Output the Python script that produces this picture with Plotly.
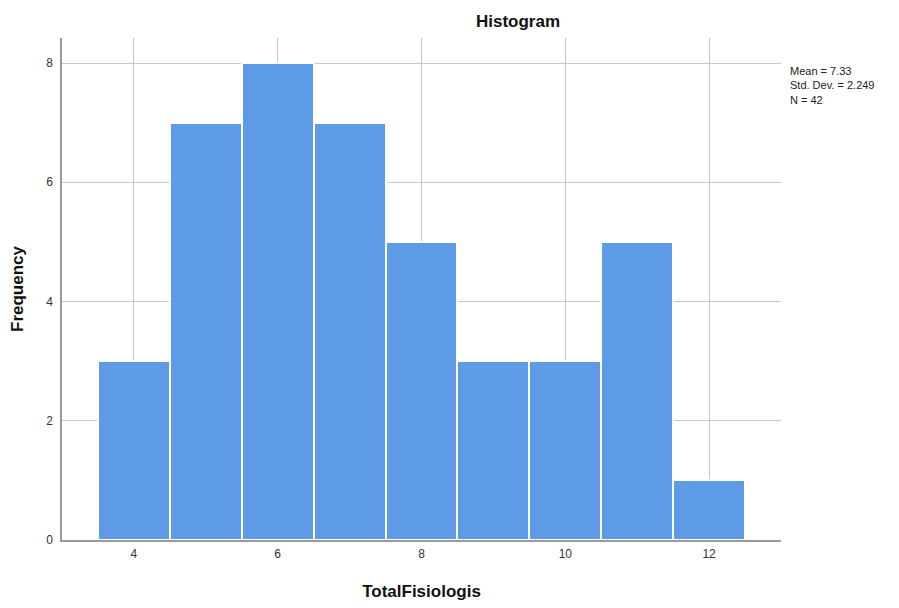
import plotly.graph_objects as go

bins = [4, 5, 6, 7, 8, 9, 10, 11, 12]
freq = [3, 7, 8, 7, 5, 3, 3, 5, 1]
x_ticks = [4, 6, 8, 10, 12]
y_ticks = [0, 2, 4, 6, 8]
stats_text = "Mean = 7.33<br>Std. Dev. = 2.249<br>N = 42"

W, H = 891, 600  # page body adds an 8px offset

fig = go.Figure()
fig.add_trace(go.Bar(
    x=bins, y=freq, width=1,
    marker=dict(color="#5d9be6", line=dict(color="white", width=2)),
    hoverinfo="x+y",
))

fig.update_layout(
    width=W, height=H,
    margin=dict(l=54, r=118, t=30, b=68, autoexpand=False),
    paper_bgcolor="white", plot_bgcolor="white",
    showlegend=False,
    font=dict(family="Arial, Liberation Sans", size=12, color="#333333"),
    title=dict(text="<b>Histogram</b>", x=510/W, xanchor="center", y=1-13/H, yanchor="middle",
               font=dict(size=17, color="#111111", family="Arial, Liberation Sans")),
    bargap=0,
)
fig.update_xaxes(
    range=[3, 13], tickvals=x_ticks, showgrid=True, gridcolor="#c8c8c8", gridwidth=1,
    showline=True, linecolor="#999999", linewidth=1.5, zeroline=False, ticks="",
    tickfont=dict(size=12, color="#333333"), automargin=False, ticklabelstandoff=2,
    title=dict(text="<b>TotalFisiologis</b>", font=dict(size=17, color="#111111"), standoff=25),
)
fig.update_yaxes(
    range=[0, 8.42], tickvals=y_ticks, showgrid=True, gridcolor="#c8c8c8", gridwidth=1,
    showline=True, linecolor="#999999", linewidth=1.5, zeroline=False, ticks="",
    tickfont=dict(size=12, color="#333333"), automargin=False, ticklabelstandoff=5,
    title=dict(text="<b>Frequency</b>", font=dict(size=17, color="#111111"), standoff=20),
)
fig.add_annotation(
    text=stats_text, xref="paper", yref="paper", x=1.01, y=1-(63-38)/502,
    xanchor="left", yanchor="top", showarrow=False, align="left",
    font=dict(size=11, color="#222222"),
)
fig.write_html("out.html")
